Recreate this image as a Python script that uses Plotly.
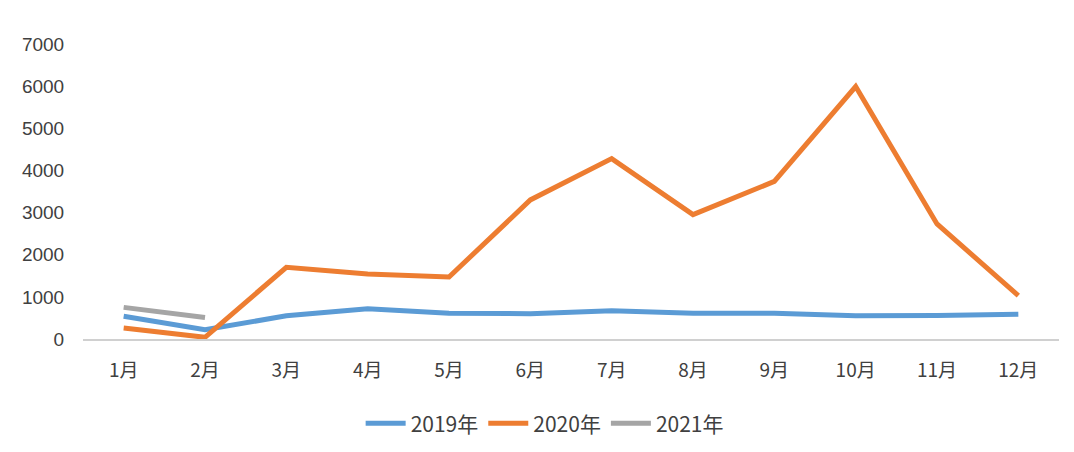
import plotly.graph_objects as go

months = ["1月", "2月", "3月", "4月", "5月", "6月", "7月", "8月", "9月", "10月", "11月", "12月"]
y2019 = [540, 220, 550, 720, 610, 600, 670, 610, 610, 550, 560, 590]
y2020 = [260, 40, 1700, 1540, 1470, 3300, 4280, 2950, 3740, 5990, 2730, 1030]
y2021 = [750, 510]
yticks = [0, 1000, 2000, 3000, 4000, 5000, 6000, 7000]

fig = go.Figure()
fig.add_trace(go.Scatter(x=months, y=y2019, name="2019年", mode="lines",
                         line=dict(color="#5B9BD5", width=5)))
fig.add_trace(go.Scatter(x=months, y=y2020, name="2020年", mode="lines",
                         line=dict(color="#ED7D31", width=5)))
fig.add_trace(go.Scatter(x=months[:len(y2021)], y=y2021, name="2021年", mode="lines",
                         line=dict(color="#A5A5A5", width=5)))

fig.update_layout(
    width=1074, height=452,
    margin=dict(l=75, r=23, t=36, b=121),
    paper_bgcolor="white", plot_bgcolor="white",
    showlegend=True,
    legend=dict(orientation="h", x=0.473, xanchor="center", y=-0.287, yanchor="middle",
                font=dict(family="Noto Sans CJK SC", size=21, color="#404040"),
                itemwidth=40, traceorder="normal"),
    xaxis=dict(showgrid=False, showline=True, linecolor="#D0D0D0", linewidth=1.5,
               ticks="outside", ticklen=13, tickcolor="rgba(0,0,0,0)",
               tickfont=dict(family="Noto Sans CJK SC", size=19, color="#404040"),
               range=[-0.5, 11.5]),
    yaxis=dict(showgrid=False, zeroline=False, range=[0, 7000], tickvals=yticks,
               ticks="outside", ticklen=14, tickcolor="rgba(0,0,0,0)",
               tickfont=dict(family="Liberation Sans", size=19, color="#404040")),
)

fig.write_html("out.html")
